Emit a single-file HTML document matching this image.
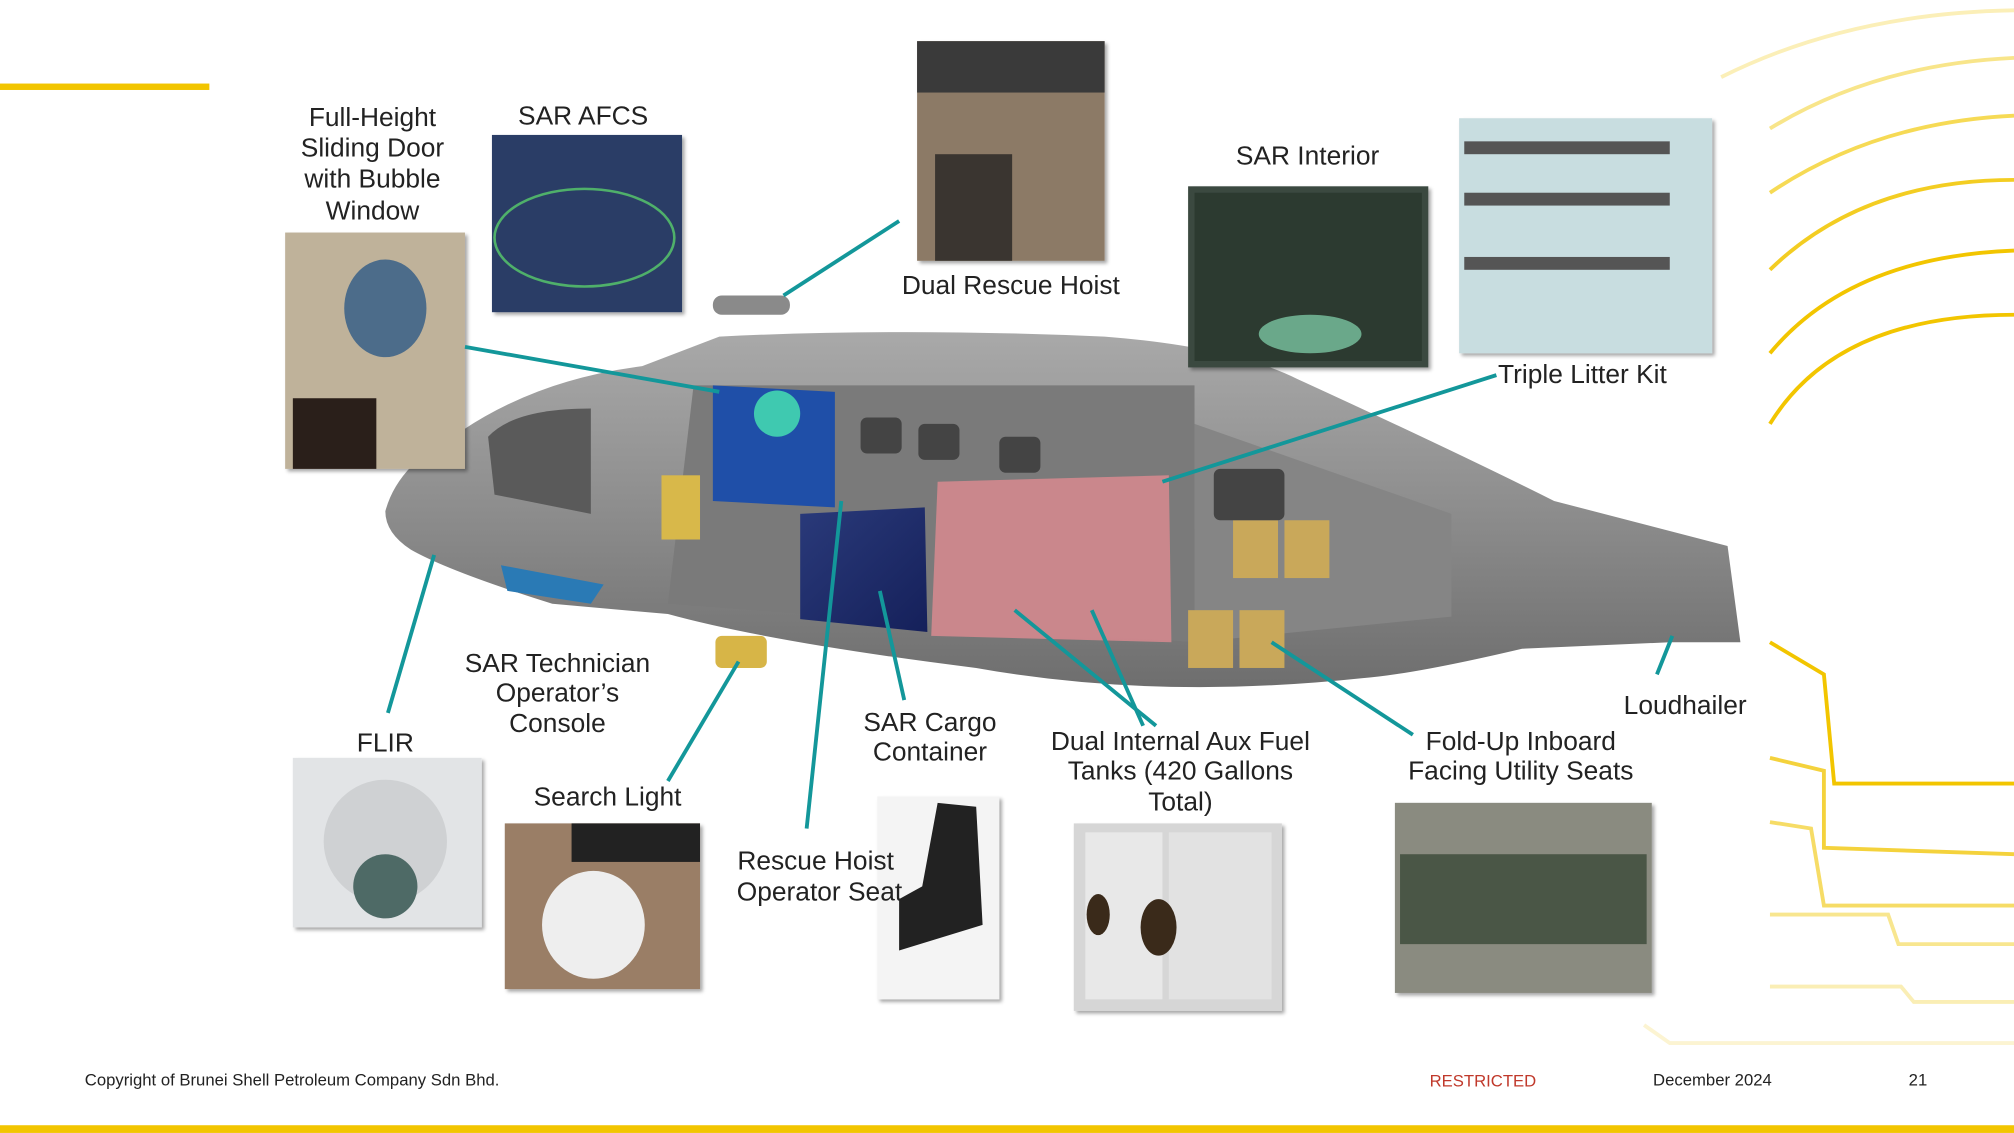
<!DOCTYPE html>
<html><head><meta charset="utf-8"><style>
html,body{margin:0;padding:0;background:#fff;width:2014px;height:1133px;overflow:hidden}
svg{display:block}
text{font-family:"Liberation Sans",Arial,sans-serif;fill:#222}
</style></head><body>
<svg width="2014" height="1133" viewBox="0 0 1568 882" xmlns="http://www.w3.org/2000/svg">
<defs>
<linearGradient id="body" x1="0" y1="0" x2="0" y2="1">
<stop offset="0" stop-color="#a9a9a9"/><stop offset="0.5" stop-color="#8d8d8d"/><stop offset="1" stop-color="#6e6e6e"/></linearGradient>
<linearGradient id="dark" x1="0" y1="0" x2="1" y2="1"><stop offset="0" stop-color="#2a3a7a"/><stop offset="1" stop-color="#15205a"/></linearGradient>
<filter id="sh"><feDropShadow dx="2" dy="2" stdDeviation="1.5" flood-opacity="0.35"/></filter>
</defs>
<rect x="0" y="65" width="163" height="5" fill="#f2c500"/>
<rect x="0" y="876" width="1568" height="6" fill="#f2c500"/>
<g fill="none" stroke-width="3">
<path d="M1340 60 Q1440 10 1568 8" stroke="#fbefb8"/>
<path d="M1378 100 Q1460 50 1568 45" stroke="#f8e58a"/>
<path d="M1378 150 Q1460 95 1568 90" stroke="#f6da55"/>
<path d="M1378 210 Q1450 140 1568 140" stroke="#f3cd22"/>
<path d="M1378 275 Q1440 200 1568 195" stroke="#f2c500"/>
<path d="M1378 330 Q1430 245 1568 245" stroke="#f2c500"/>
<path d="M1378 500 L1420 525 L1428 610 L1568 610" stroke="#f2c500"/>
<path d="M1378 590 L1420 600 L1420 660 L1568 665" stroke="#f4d23c"/>
<path d="M1378 640 L1410 645 L1420 705 L1568 705" stroke="#f6dc66"/>
<path d="M1378 712 L1470 712 L1478 735 L1568 735" stroke="#f8e68f"/>
<path d="M1378 768 L1480 768 L1490 780 L1568 780" stroke="#faeeb5"/>
<path d="M1280 798 L1300 812 L1568 812" stroke="#fcf4d2"/>
</g>
<path d="M300 398 Q310 360 360 335 Q420 295 500 285 L560 262 Q700 255 860 262 Q960 270 1010 295 Q1130 350 1210 390 L1345 425 L1355 500 L1300 500 L1185 505 Q1100 525 1060 528 Q900 545 760 520 Q600 500 520 478 L430 470 Q350 445 320 428 Q300 415 300 398 Z" fill="url(#body)"/>
<path d="M540 300 L930 300 L930 500 L520 470 Z" fill="#7a7a7a"/>
<path d="M930 330 L1130 400 L1130 480 L930 500 Z" fill="#858585"/>
<path d="M555 300 L650 305 L650 395 L555 390 Z" fill="#1f4fa8"/>
<circle cx="605" cy="322" r="18" fill="#3fc9b0"/>
<path d="M623 400 L720 395 L722 492 L623 482 Z" fill="url(#dark)"/>
<path d="M730 375 L910 370 L912 500 L725 495 Z" fill="#d88a8f" opacity="0.85"/>
<path d="M380 340 Q400 318 460 318 L460 400 L385 385 Z" fill="#5a5a5a"/>
<path d="M390 440 L470 455 L460 470 L395 460 Z" fill="#2a7ab5"/>
<rect x="555" y="230" width="60" height="15" rx="7" fill="#8a8a8a"/>
<rect x="515" y="370" width="30" height="50" fill="#d8b84a"/>
<g fill="#c9a85a"><rect x="960" y="405" width="35" height="45"/><rect x="1000" y="405" width="35" height="45"/><rect x="925" y="475" width="35" height="45"/><rect x="965" y="475" width="35" height="45"/></g>
<g fill="#444"><rect x="670" y="325" width="32" height="28" rx="5"/><rect x="715" y="330" width="32" height="28" rx="5"/><rect x="778" y="340" width="32" height="28" rx="5"/><rect x="945" y="365" width="55" height="40" rx="5"/></g>
<rect x="557" y="495" width="40" height="25" rx="5" fill="#d7b547"/>
<g filter="url(#sh)">
<rect x="222" y="181" width="140" height="184" fill="#bfb29a"/>
<rect x="383" y="105" width="148" height="138" fill="#2b3e66"/>
<rect x="714" y="32" width="146" height="171" fill="#8c7a66"/>
<rect x="925" y="145" width="187" height="141" fill="#3b4a40"/>
<rect x="1136" y="92" width="197" height="183" fill="#c8dde0"/>
<rect x="228" y="590" width="147" height="132" fill="#e2e4e6"/>
<rect x="393" y="641" width="152" height="129" fill="#9a7e66"/>
<rect x="683" y="620" width="95" height="158" fill="#f4f4f4"/>
<rect x="836" y="641" width="162" height="146" fill="#d6d6d6"/>
<rect x="1086" y="625" width="200" height="148" fill="#8a8b80"/>
</g>
<rect x="714" y="32" width="146" height="40" fill="#3a3a3a"/>
<rect x="728" y="120" width="60" height="83" fill="#3a3530"/>
<rect x="228" y="310" width="65" height="55" fill="#2a1f1a"/>
<ellipse cx="300" cy="240" rx="32" ry="38" fill="#4c6c8a"/>
<ellipse cx="455" cy="185" rx="70" ry="38" fill="none" stroke="#4fb06a" stroke-width="2"/>
<rect x="930" y="150" width="177" height="131" fill="#2c3a30"/><ellipse cx="1020" cy="260" rx="40" ry="15" fill="#6aa88a"/>
<g fill="#555"><rect x="1140" y="110" width="160" height="10"/><rect x="1140" y="150" width="160" height="10"/><rect x="1140" y="200" width="160" height="10"/></g>
<circle cx="300" cy="655" r="48" fill="#cfd1d3"/><circle cx="300" cy="690" r="25" fill="#4e6a66"/>
<rect x="445" y="641" width="100" height="30" fill="#222"/><ellipse cx="462" cy="720" rx="40" ry="42" fill="#eee"/>
<path d="M730 625 L760 628 L765 720 L700 740 L700 700 L718 690 Z" fill="#222"/>
<rect x="845" y="648" width="60" height="130" fill="#e8e8e8"/><rect x="910" y="648" width="80" height="130" fill="#e2e2e2"/>
<ellipse cx="855" cy="712" rx="9" ry="16" fill="#3a2a1a"/><ellipse cx="902" cy="722" rx="14" ry="22" fill="#3a2a1a"/>
<rect x="1090" y="665" width="192" height="70" fill="#4a5646"/>
<g stroke="#13979a" stroke-width="3" fill="none">
<line x1="362" y1="270" x2="560" y2="305"/>
<line x1="700" y1="172" x2="610" y2="230"/>
<line x1="1165" y1="292" x2="905" y2="375"/>
<line x1="338" y1="432" x2="302" y2="555"/>
<line x1="575" y1="515" x2="520" y2="608"/>
<line x1="655" y1="390" x2="628" y2="645"/>
<line x1="685" y1="460" x2="704" y2="545"/>
<line x1="790" y1="475" x2="900" y2="565"/>
<line x1="850" y1="475" x2="890" y2="565"/>
<line x1="990" y1="500" x2="1100" y2="572"/>
<line x1="1302" y1="495" x2="1290" y2="525"/>
</g>
<g font-size="20.5" text-anchor="middle">
<text x="290" y="98">Full-Height</text><text x="290" y="122">Sliding Door</text><text x="290" y="146">with Bubble</text><text x="290" y="171">Window</text>
<text x="454" y="97">SAR AFCS</text>
<text x="787" y="229">Dual Rescue Hoist</text>
<text x="1018" y="128">SAR Interior</text>
<text x="1232" y="298">Triple Litter Kit</text>
<text x="434" y="523">SAR Technician</text><text x="434" y="546">Operator’s</text><text x="434" y="570">Console</text>
<text x="300" y="585">FLIR</text>
<text x="473" y="627">Search Light</text>
<text x="724" y="569">SAR Cargo</text><text x="724" y="592">Container</text>
<text x="635" y="677">Rescue Hoist</text><text x="638" y="701">Operator Seat</text>
<text x="919" y="584">Dual Internal Aux Fuel</text><text x="919" y="607">Tanks (420 Gallons</text><text x="919" y="631">Total)</text>
<text x="1184" y="584">Fold-Up Inboard</text><text x="1184" y="607">Facing Utility Seats</text>
<text x="1312" y="556">Loudhailer</text>
</g>
<g font-size="13">
<text x="66" y="845">Copyright of Brunei Shell Petroleum Company Sdn Bhd.</text>
<text x="1113" y="846" style="fill:#c0392b">RESTRICTED</text>
<text x="1287" y="845">December 2024</text>
<text x="1486" y="845">21</text>
</g>
</svg>
</body></html>
